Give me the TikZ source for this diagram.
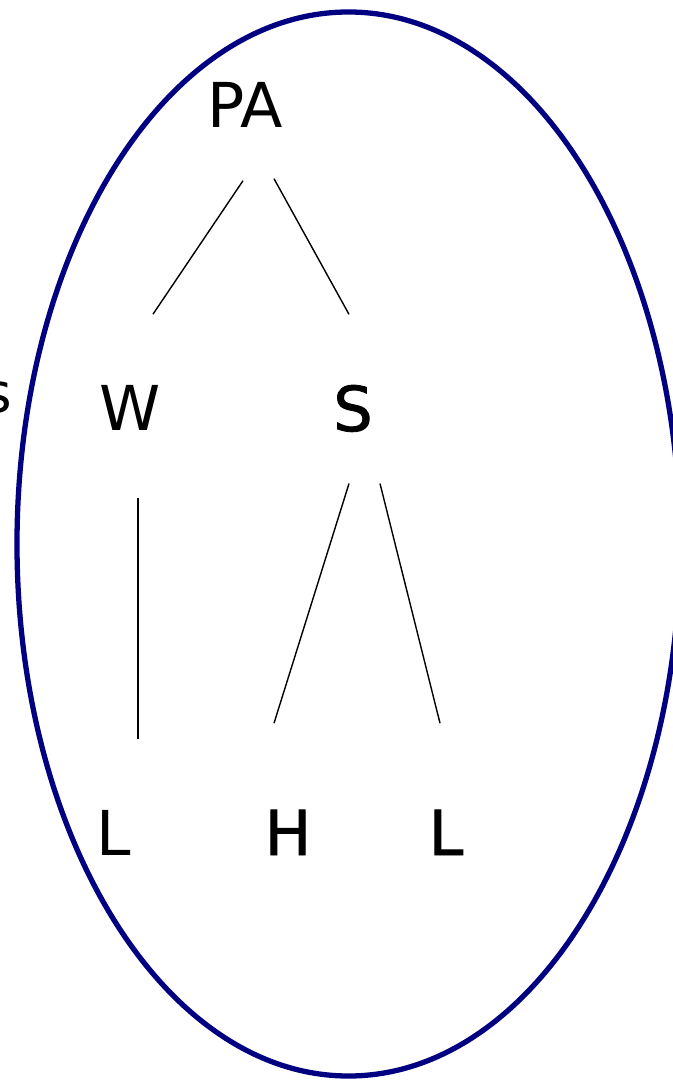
\documentclass[tikz,border=0pt]{standalone}
\usepackage{fontspec}
\setmainfont{DejaVu Sans}
\newfontfamily\heavyfont[FakeBold=1.4]{DejaVu Sans}
\usetikzlibrary{calc}
\definecolor{ovalNavy}{RGB}{0,0,128}

\begin{document}
\begin{tikzpicture}[x=0.01cm,y=-0.01cm,
  tone/.style={inner sep=0pt,anchor=base,font=\fontsize{17.6}{20}\selectfont},
  tonebold/.style={tone,font=\heavyfont\fontsize{17.6}{20}\selectfont},
  branch/.style={line width=0.4pt}]
\useasboundingbox (0,0) rectangle (672,1080);
\draw[ovalNavy,line width=1.5pt] (348.5,544) ellipse [x radius=331.5,y radius=532];
\node[anchor=base east,inner sep=0pt,font=\fontsize{15.6}{18}\selectfont] (cut) at (13,413) {s};
\node[tone] (PA) at (245,128) {PA};
\node[tone] (W) at (130,431) {W};
\node[tonebold] (S) at (353,431) {S};
\node[tone] (L1) at (114,855) {L};
\node[tonebold] (H) at (288,855) {H};
\node[tonebold] (L2) at (446,855) {L};
\draw[branch] ($(PA.south)+(-2,52)$) -- ($(W.north)+(23,-71)$);
\draw[branch] ($(PA.south)+(29,50)$) -- ($(S.north)+(-4,-70)$);
\draw[branch] ($(W.south)+(8,66)$) -- ($(L1.north)+(24,-70)$);
\draw[branch] ($(S.south)+(-4,51)$) -- ($(H.north)+(-14,-86)$);
\draw[branch] ($(S.south)+(27,51)$) -- ($(L2.north)+(-6,-86)$);
\end{tikzpicture}
\end{document}
